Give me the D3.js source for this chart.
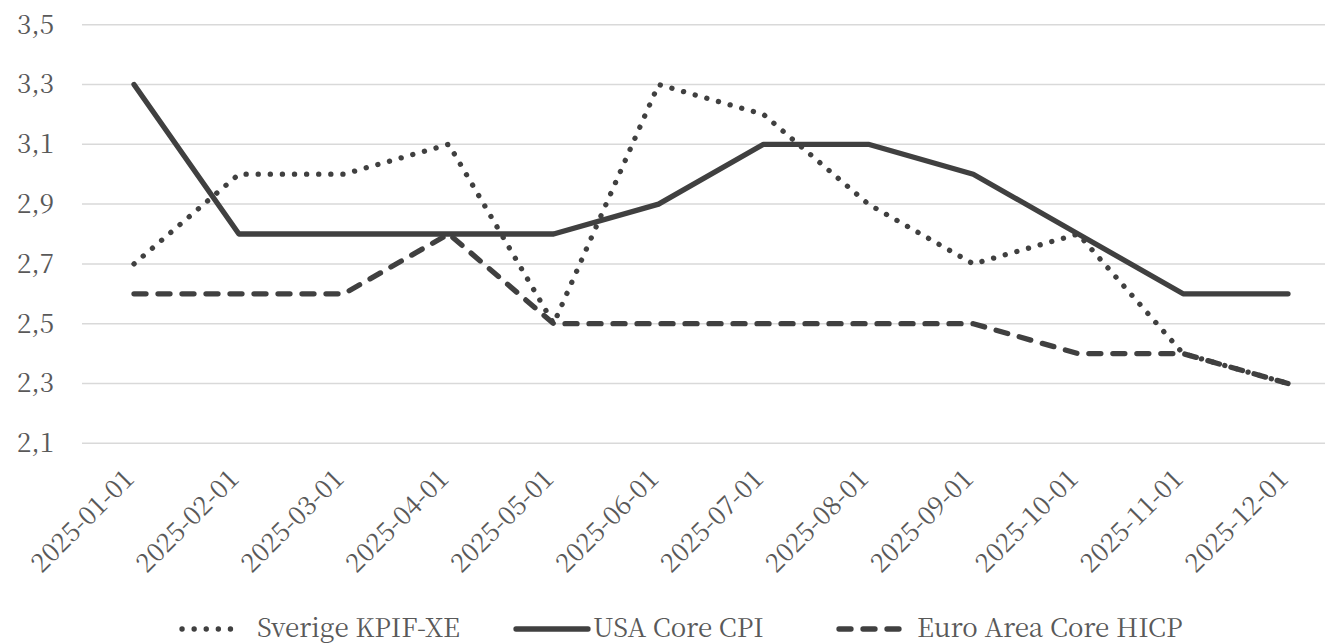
<!DOCTYPE html>
<html>
<head>
<meta charset="utf-8">
<script src="https://cdn.jsdelivr.net/npm/d3@7"></script>
<style>
  body { margin: 0; background: #fff; }
  svg { display: block; }
  svg text { font-family: "Noto Serif CJK SC", "Liberation Serif", serif; }
</style>
</head>
<body>
<div id="chart"></div>
<script>
// Chart data
const months = ["2025-01-01", "2025-02-01", "2025-03-01", "2025-04-01", "2025-05-01", "2025-06-01",
                "2025-07-01", "2025-08-01", "2025-09-01", "2025-10-01", "2025-11-01", "2025-12-01"];
const sverigeKpifXe = [2.7, 3.0, 3.0, 3.1, 2.5, 3.3, 3.2, 2.9, 2.7, 2.8, 2.4, 2.3];
const usaCoreCpi = [3.3, 2.8, 2.8, 2.8, 2.8, 2.9, 3.1, 3.1, 3.0, 2.8, 2.6, 2.6];
const euroCoreHicp = [2.6, 2.6, 2.6, 2.8, 2.5, 2.5, 2.5, 2.5, 2.5, 2.4, 2.4, 2.3];
const yTicks = [2.1, 2.3, 2.5, 2.7, 2.9, 3.1, 3.3, 3.5];
const seriesNames = ["Sverige KPIF-XE", "USA Core CPI", "Euro Area Core HICP"];

const width = 1325;
const height = 643;
const lineColor = "#404040";
const textColor = "#595959";
const fontFamily = '"Noto Serif CJK SC", "Liberation Serif", serif';
const fontSize = "26px";

const series = [
    { name: seriesNames[0], values: sverigeKpifXe, dash: "0.1 12" },
    { name: seriesNames[1], values: usaCoreCpi, dash: null },
    { name: seriesNames[2], values: euroCoreHicp, dash: "12 12" },
];

const svg = d3.select("#chart")
    .append("svg")
    .attr("width", width)
    .attr("height", height);

// Scales
const xScale = d3.scalePoint()
    .domain(months)
    .range([134, 1288]);

const yScale = d3.scaleLinear()
    .domain([2.1, 3.5])
    .range([443.3, 24.7]);

const commaFormat = d3.formatLocale({ decimal: ",", thousands: " ", grouping: [3], currency: ["", ""] }).format(".1f");

// Gridlines
svg.append("g")
    .selectAll("line")
    .data(yTicks)
    .enter()
    .append("line")
    .attr("x1", 82)
    .attr("x2", width)
    .attr("y1", (d) => yScale(d))
    .attr("y2", (d) => yScale(d))
    .attr("stroke", "#d9d9d9")
    .attr("stroke-width", 1.5);

// Y axis labels
const yAxisG = svg.append("g")
    .attr("transform", "translate(66,0)")
    .call(d3.axisLeft(yScale).tickValues(yTicks).tickFormat(commaFormat).tickSize(0).tickPadding(12))
    .attr("font-family", fontFamily)
    .attr("font-size", fontSize);
yAxisG.select(".domain").remove();
yAxisG.selectAll("text")
    .attr("fill", textColor);

// X axis labels, rotated
const xAxisG = svg.append("g")
    .attr("transform", `translate(0, ${yScale(2.1)})`)
    .call(d3.axisBottom(xScale).tickSize(0).tickPadding(0))
    .attr("font-family", fontFamily)
    .attr("font-size", fontSize);
xAxisG.select(".domain").remove();
xAxisG.selectAll("text")
    .attr("fill", textColor)
    .style("text-anchor", "end")
    .attr("dy", "0")
    .attr("transform", "translate(1, 37) rotate(-45)");

// Lines
const line = d3.line()
    .x((d, i) => xScale(months[i]))
    .y((d) => yScale(d));

svg.append("g")
    .selectAll("path")
    .data(series)
    .enter()
    .append("path")
    .attr("d", (d) => line(d.values))
    .attr("fill", "none")
    .attr("stroke", lineColor)
    .attr("stroke-width", 5.3)
    .attr("stroke-linecap", "round")
    .attr("stroke-linejoin", "round")
    .attr("stroke-dasharray", (d) => d.dash);

// Legend
const legendItems = [
    { x1: 182, x2: 242, tx: 257 },
    { x1: 516, x2: 588, tx: 593 },
    { x1: 839, x2: 903, tx: 917 },
];
const legendY = 629;

const legend = svg.append("g")
    .attr("font-family", fontFamily)
    .attr("font-size", fontSize)
    .selectAll("g")
    .data(series)
    .enter()
    .append("g");

legend.append("line")
    .attr("x1", (d, i) => legendItems[i].x1)
    .attr("x2", (d, i) => legendItems[i].x2)
    .attr("y1", legendY)
    .attr("y2", legendY)
    .attr("stroke", lineColor)
    .attr("stroke-width", 5.3)
    .attr("stroke-linecap", "round")
    .attr("stroke-dasharray", (d) => d.dash);

legend.append("text")
    .attr("x", (d, i) => legendItems[i].tx)
    .attr("y", legendY + 8)
    .attr("fill", textColor)
    .text((d) => d.name);
</script>
</body>
</html>
